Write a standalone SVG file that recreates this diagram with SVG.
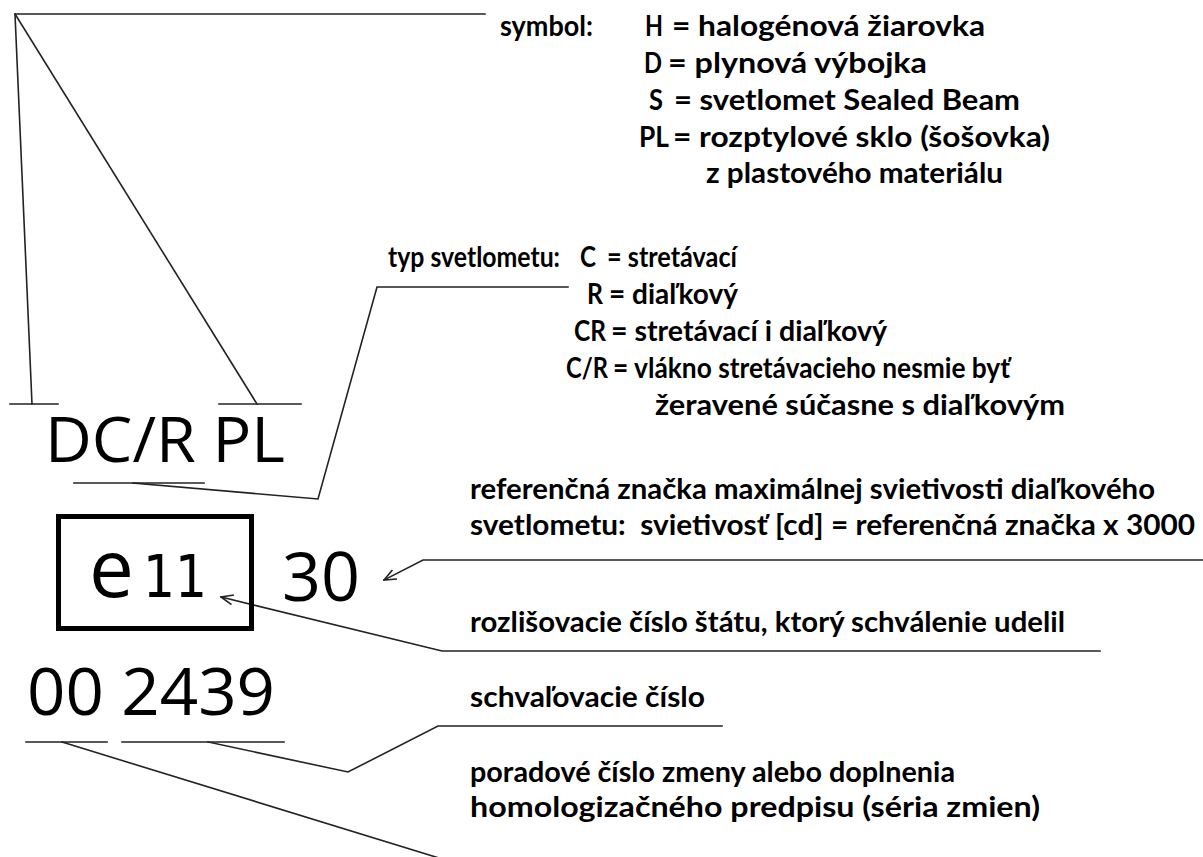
<svg xmlns="http://www.w3.org/2000/svg" width="1203" height="857" viewBox="0 0 1203 857">
<style>
.ln{fill:none;stroke:#222;stroke-width:1.6;stroke-linecap:square}
.lb{font-family:Lato,"Open Sans","Liberation Sans",sans-serif;font-weight:700;font-size:28px;fill:#000}
.big{font-family:"Open Sans","Liberation Sans",sans-serif;font-weight:400;fill:#000}
</style>
<defs>
<marker id="arr" viewBox="0 0 14 12" refX="13" refY="6" markerWidth="14" markerHeight="12" markerUnits="userSpaceOnUse" orient="auto">
<path d="M1,1 L13,6 L1,11" fill="none" stroke="#222" stroke-width="1.6"/>
</marker>
</defs>
<rect width="1203" height="857" fill="#fff"/>
<g id="connectors">
<path class="ln" d="M485,14 H15 L32,404"/>
<path class="ln" d="M15,14 L257,404"/>
<path class="ln" d="M10,404 H58"/>
<path class="ln" d="M219,404 H301"/>
<path class="ln" d="M74,483 H204"/>
<path class="ln" d="M133,483 L318,499 L377,287 H568"/>
<path class="ln" d="M1203,560 H423 L384,580" marker-end="url(#arr)"/>
<path class="ln" d="M1100,651 H442 L221,597" marker-end="url(#arr)"/>
<path class="ln" d="M122,742 H284"/>
<path class="ln" d="M208,742 L348,772 L438,726 H722"/>
<path class="ln" d="M26,742 H107"/>
<path class="ln" d="M62,742 L452,862"/>
</g>
<g id="mark-code">
<text class="big" x="45" y="462" font-size="62" textLength="240" lengthAdjust="spacingAndGlyphs">DC/R PL</text>
</g>
<g id="mark-box">
<rect x="58.5" y="516.5" width="193" height="112" fill="none" stroke="#000" stroke-width="5"/>
<text class="big" x="89" y="597" font-size="80">e</text>
<text x="143" y="597" font-family="'DejaVu Sans','Open Sans',sans-serif" font-size="58" fill="#000" textLength="64" lengthAdjust="spacingAndGlyphs">11</text>
</g>
<g id="mark-30">
<text class="big" x="282" y="601" font-size="67" textLength="78" lengthAdjust="spacingAndGlyphs">30</text>
</g>
<g id="mark-number">
<text class="big" x="27" y="715" font-size="66" textLength="248" lengthAdjust="spacingAndGlyphs">00 2439</text>
</g>
<g id="label-symbol">
<text class="lb" x="500" y="36" textLength="93" lengthAdjust="spacingAndGlyphs">symbol:</text>
<text class="lb" x="645" y="36" textLength="18" lengthAdjust="spacingAndGlyphs">H</text>
<text class="lb" x="672" y="36" textLength="313" lengthAdjust="spacingAndGlyphs">= halogénová žiarovka</text>
<text class="lb" x="644" y="73" textLength="18" lengthAdjust="spacingAndGlyphs">D</text>
<text class="lb" x="668" y="73" textLength="259" lengthAdjust="spacingAndGlyphs">= plynová výbojka</text>
<text class="lb" x="649" y="110" textLength="14" lengthAdjust="spacingAndGlyphs">S</text>
<text class="lb" x="674" y="110" textLength="346" lengthAdjust="spacingAndGlyphs">= svetlomet Sealed Beam</text>
<text class="lb" x="639" y="147" textLength="30" lengthAdjust="spacingAndGlyphs">PL</text>
<text class="lb" x="673" y="147" textLength="377" lengthAdjust="spacingAndGlyphs">= rozptylové sklo (šošovka)</text>
<text class="lb" x="706" y="183" textLength="297" lengthAdjust="spacingAndGlyphs">z plastového materiálu</text>
</g>
<g id="label-type">
<text class="lb" x="388" y="267" textLength="172" lengthAdjust="spacingAndGlyphs">typ svetlometu:</text>
<text class="lb" x="580" y="267" textLength="16" lengthAdjust="spacingAndGlyphs">C</text>
<text class="lb" x="607" y="267" textLength="130" lengthAdjust="spacingAndGlyphs">= stretávací</text>
<text class="lb" x="587" y="304" textLength="16" lengthAdjust="spacingAndGlyphs">R</text>
<text class="lb" x="609" y="304" textLength="129" lengthAdjust="spacingAndGlyphs">= diaľkový</text>
<text class="lb" x="574" y="341" textLength="32" lengthAdjust="spacingAndGlyphs">CR</text>
<text class="lb" x="611" y="341" textLength="276" lengthAdjust="spacingAndGlyphs">= stretávací i diaľkový</text>
<text class="lb" x="566" y="378" textLength="42" lengthAdjust="spacingAndGlyphs">C/R</text>
<text class="lb" x="613" y="378" textLength="397" lengthAdjust="spacingAndGlyphs">= vlákno stretávacieho nesmie byť</text>
<text class="lb" x="655" y="415" textLength="410" lengthAdjust="spacingAndGlyphs">žeravené súčasne s diaľkovým</text>
</g>
<g id="label-reference">
<text class="lb" x="470" y="499" textLength="685" lengthAdjust="spacingAndGlyphs">referenčná značka maximálnej svietivosti diaľkového</text>
<text class="lb" x="470" y="535" textLength="725" lengthAdjust="spacingAndGlyphs" xml:space="preserve">svetlometu:  svietivosť [cd] = referenčná značka x 3000</text>
</g>
<g id="label-state">
<text class="lb" x="470" y="632" textLength="595" lengthAdjust="spacingAndGlyphs">rozlišovacie číslo štátu, ktorý schválenie udelil</text>
</g>
<g id="label-approval">
<text class="lb" x="470" y="707" textLength="235" lengthAdjust="spacingAndGlyphs">schvaľovacie číslo</text>
</g>
<g id="label-series">
<text class="lb" x="470" y="782" textLength="485" lengthAdjust="spacingAndGlyphs">poradové číslo zmeny alebo doplnenia</text>
<text class="lb" x="470" y="817" textLength="570" lengthAdjust="spacingAndGlyphs">homologizačného predpisu (séria zmien)</text>
</g>
</svg>
